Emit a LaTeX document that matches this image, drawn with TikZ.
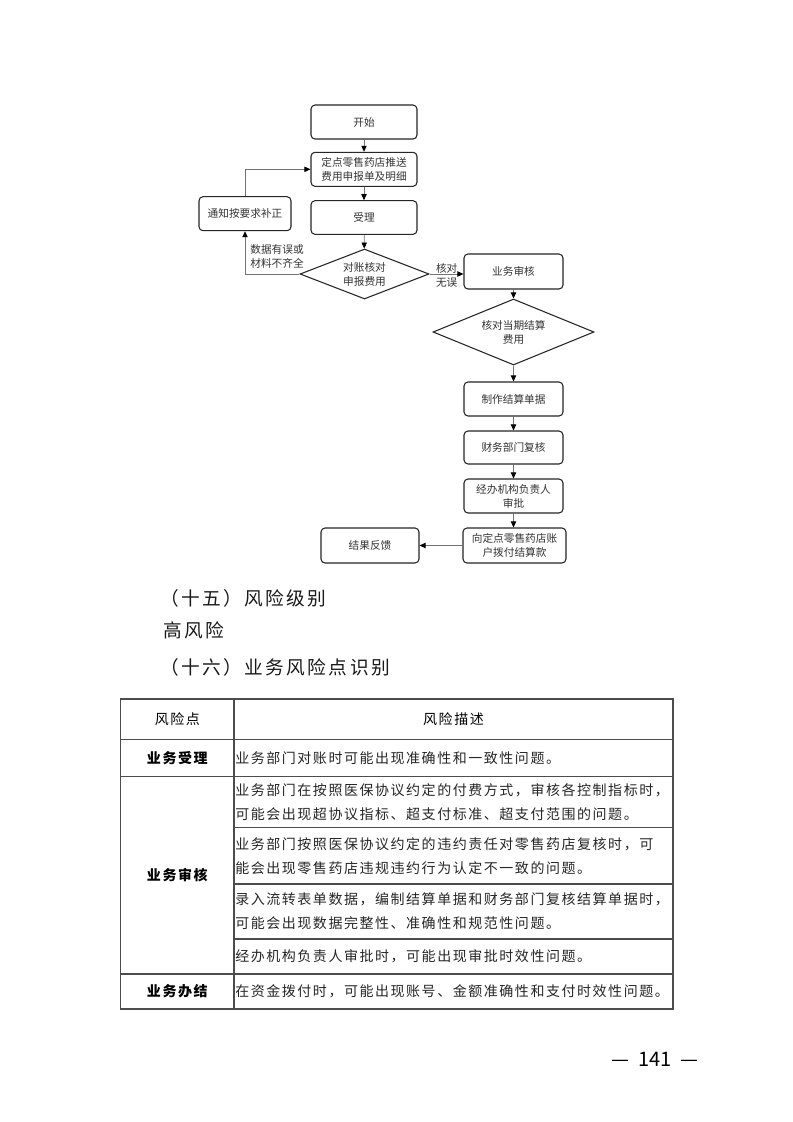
\documentclass[tikz,border=0pt]{standalone}
\usepackage{fontspec}
\setmainfont{Noto Sans CJK SC}
\newfontfamily\tblfont{Noto Sans CJK SC}[LetterSpace=11]
\newfontfamily\headfont{Noto Sans CJK SC}[LetterSpace=13]
\usetikzlibrary{shapes.geometric,arrows.meta}
\begin{document}
\begin{tikzpicture}[x=0.75pt,y=-0.75pt,
  flowtext/.style={font=\fontsize{8}{10.5}\selectfont,text=black!80},
  box/.style={flowtext,draw=black!85,line width=0.8pt,rounded corners=3pt,align=center,inner sep=0pt},
  dia/.style={flowtext,draw=black!85,line width=0.8pt,diamond,aspect=2.5,inner sep=0pt,align=center},
  conn/.style={draw=black!55,line width=0.6pt,-{Triangle[length=4.5pt,width=4pt,color=black]}},
  lbl/.style={flowtext,align=center,inner sep=0pt},
  tline/.style={draw=black!70,line width=0.8pt},
  ttext/.style={font=\tblfont\fontsize{10.5}{18}\selectfont,text=black!85,inner sep=0pt,align=left},
  thead/.style={font=\tblfont\fontsize{10.5}{18}\selectfont,text=black,inner sep=0pt},
  tkey/.style={font=\tblfont\bfseries\fontsize{10.5}{18}\selectfont,text=black,inner sep=0pt},
  heading/.style={font=\headfont\fontsize{14}{18}\selectfont,text=black!90,inner sep=0pt,anchor=west}
]
\fill[white] (0,0) rectangle (793,1122);
\useasboundingbox (0,0) rectangle (793,1122);

% ---------- flowchart ----------
\node[box,minimum width=79.5pt,minimum height=25.5pt] (start) at (364,122) {开始};
\node[box,minimum width=79.5pt,minimum height=25.5pt] (push) at (364,169.3) {定点零售药店推送\\费用申报单及明细};
\node[box,minimum width=79.5pt,minimum height=25.2pt] (accept) at (364,217.5) {受理};
\node[box,minimum width=69pt,minimum height=25.5pt] (notify) at (245,213.7) {通知按要求补正};
\node[dia,minimum width=96.75pt,minimum height=37.5pt] (d1) at (364.5,274) {对账核对\\申报费用};
\node[box,minimum width=74.25pt,minimum height=26.25pt] (review) at (513.5,271.5) {业务审核};
\node[dia,minimum width=120.75pt,minimum height=49.5pt] (d2) at (513.5,332) {核对当期结算\\费用};
\node[box,minimum width=74.25pt,minimum height=25.5pt] (make) at (513.5,399) {制作结算单据};
\node[box,minimum width=74.25pt,minimum height=24.75pt] (fin) at (513.5,447.5) {财务部门复核};
\node[box,minimum width=74.25pt,minimum height=25.5pt] (appr) at (513.5,496) {经办机构负责人\\审批};
\node[box,minimum width=77.25pt,minimum height=26.25pt] (pay) at (514.5,545.5) {向定点零售药店账\\户拨付结算款};
\node[box,minimum width=73.5pt,minimum height=26.25pt] (fb) at (370,545.5) {结果反馈};

\node[lbl] (lab1) at (277,256.7) {数据有误或\\材料不齐全};
\node[lbl] (lab2) at (446.7,275.8) {核对\\无误};

\draw[conn] (start) -- (push);
\draw[conn] (push) -- (accept);
\draw[conn] (accept) -- (d1);
\draw[conn] (d1.east) -- (d1.east -| review.west);
\draw[conn] (d1.west) -| (notify.south);
\draw[conn] (notify.north) |- (push.west);
\draw[conn] (review) -- (d2);
\draw[conn] (d2) -- (make);
\draw[conn] (make) -- (fin);
\draw[conn] (fin) -- (appr);
\draw[conn] (appr.south) -- (appr.south |- pay.north);
\draw[conn] (pay) -- (fb);

% ---------- headings ----------
\node[heading] (h1) at (160,598) {（十五）风险级别};
\node[heading] (h2) at (163,630) {高风险};
\node[heading] (h3) at (160,667) {（十六）业务风险点识别};

% ---------- table ----------
\draw[tline] (120.7,699) rectangle (673,1009);
\draw[tline] (234,699) -- (234,1009);
\draw[tline] (120.7,739.3) -- (673,739.3);
\draw[tline] (120.7,776.7) -- (673,776.7);
\draw[tline] (120.7,974) -- (673,974);
\draw[tline] (234,827.7) -- (673,827.7);
\draw[tline] (234,884) -- (673,884);
\draw[tline] (234,939) -- (673,939);

\node[thead] (c1) at (177.3,719) {风险点};
\node[thead] (c2) at (453.5,719) {风险描述};
\node[tkey] (k1) at (177.3,758) {业务受理};
\node[tkey] (k2) at (177.3,875.3) {业务审核};
\node[tkey] (k3) at (177.3,991.5) {业务办结};

\node[ttext,anchor=west] (t1) at (235,758) {业务部门对账时可能出现准确性和一致性问题。};
\node[ttext,anchor=west] (t2) at (235,802.2) {业务部门在按照医保协议约定的付费方式，审核各控制指标时，\\可能会出现超协议指标、超支付标准、超支付范围的问题。};
\node[ttext,anchor=west] (t3) at (235,855.8) {业务部门按照医保协议约定的违约责任对零售药店复核时，可\\能会出现零售药店违规违约行为认定不一致的问题。};
\node[ttext,anchor=west] (t4) at (235,911.5) {录入流转表单数据，编制结算单据和财务部门复核结算单据时，\\可能会出现数据完整性、准确性和规范性问题。};
\node[ttext,anchor=west] (t5) at (235,956.5) {经办机构负责人审批时，可能出现审批时效性问题。};
\node[ttext,anchor=west] (t6) at (235,991.5) {在资金拨付时，可能出现账号、金额准确性和支付时效性问题。};

% ---------- page number ----------
\node[font=\fontsize{15}{18}\selectfont,inner sep=0pt] (pg) at (655,1059) {—\hspace{7pt}141\hspace{7pt}—};
\end{tikzpicture}
\end{document}
